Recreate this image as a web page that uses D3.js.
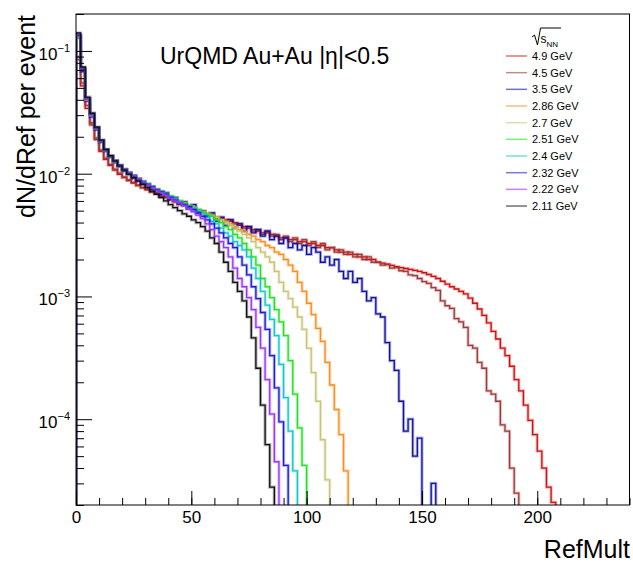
<!DOCTYPE html>
<html>
<head>
<meta charset="utf-8">
<script src="https://cdn.jsdelivr.net/npm/d3@7"></script>
<style>
  body { margin: 0; background: #fff; }
  svg { font-family: "Liberation Sans", Arial, Helvetica, sans-serif; }
</style>
</head>
<body>
<div id="chart"></div>
<script>
// RefMult bins, width 2, first bin starts at 0
var binWidth = 2;

var energies = ["4.9 GeV", "4.5 GeV", "3.5 GeV", "2.86 GeV", "2.7 GeV",
                "2.51 GeV", "2.4 GeV", "2.32 GeV", "2.22 GeV", "2.11 GeV"];

var colors = ["#d01010", "#a03838", "#1010a0", "#ff8c1a", "#c8c474",
              "#22e022", "#10c8c8", "#1a1ad8", "#9933ff", "#111111"];

// dN/dRef per event, one value per bin
var v49 = [0.085, 0.052, 0.034, 0.025, 0.0190, 0.0152, 0.0131, 0.0117, 0.0107, 0.0099,
  0.0093, 0.0088, 0.0084, 0.0080, 0.0077, 0.0074, 0.0071, 0.0069, 0.0066, 0.0064,
  0.0062, 0.0059, 0.0057, 0.0055, 0.0053, 0.0052, 0.0050, 0.0049, 0.0047, 0.0046,
  0.0044, 0.0043, 0.0042, 0.0041, 0.0040, 0.0038, 0.0037, 0.0036, 0.0035, 0.0034,
  0.0033, 0.0033, 0.0032, 0.0031, 0.0030, 0.0030, 0.0029, 0.0029, 0.0028, 0.0028,
  0.0027, 0.0027, 0.0026, 0.0026, 0.0025, 0.0025, 0.0024, 0.0023, 0.0023, 0.0022,
  0.0022, 0.0021, 0.0021, 0.0020, 0.0020, 0.0019, 0.00187, 0.00183, 0.00179, 0.00175,
  0.00172, 0.00169, 0.00166, 0.00163, 0.0016, 0.00156, 0.00151, 0.00146, 0.0014, 0.00133,
  0.00126, 0.0012, 0.00115, 0.0011, 0.00105, 0.00097, 0.00088, 0.00079, 0.0007, 0.00061,
  0.00052, 0.00045, 0.00038, 0.00033, 0.00027, 0.00021, 0.00017, 0.00013, 0.000098, 0.000075,
  0.000055, 0.00004, 0.000028, 0.000021];

var v45 = [0.090, 0.055, 0.036, 0.026, 0.0196, 0.0156, 0.0134, 0.0119, 0.0109, 0.0101,
  0.0094, 0.0089, 0.0085, 0.0081, 0.0077, 0.0075, 0.0071, 0.0070, 0.0066, 0.0065,
  0.0061, 0.0060, 0.0056, 0.0056, 0.0052, 0.0053, 0.0049, 0.0050, 0.0046, 0.0047,
  0.0043, 0.0044, 0.0041, 0.0042, 0.0039, 0.0039, 0.0036, 0.0037, 0.0034, 0.0035,
  0.0032, 0.0034, 0.0031, 0.0032, 0.0029, 0.0031, 0.0028, 0.0030, 0.0027, 0.0029,
  0.0026, 0.0028, 0.0025, 0.0027, 0.0024, 0.0025, 0.0023, 0.0024, 0.0022, 0.0023,
  0.0021, 0.0022, 0.0020, 0.0021, 0.0019, 0.0019, 0.0018, 0.00182, 0.0017, 0.00172,
  0.00162, 0.0016, 0.0015, 0.00148, 0.0014, 0.00132, 0.00128, 0.00118, 0.00112, 0.00092,
  0.00084, 0.0008, 0.00066, 0.00062, 0.00056, 0.0004, 0.00038, 0.00029, 0.00026, 0.00017,
  0.00016, 0.00014, 0.00009, 0.00008, 0.00004, 0.000025];

var v35 = [0.128, 0.068, 0.039, 0.029, 0.0228, 0.0180, 0.0152, 0.0136, 0.0123, 0.0114,
  0.0105, 0.0099, 0.0092, 0.0088, 0.0083, 0.0080, 0.0075, 0.0073, 0.0068, 0.0070,
  0.0062, 0.0064, 0.0057, 0.0059, 0.0052, 0.0056, 0.0048, 0.0049, 0.0045, 0.0048,
  0.0041, 0.0044, 0.0038, 0.0042, 0.0036, 0.0039, 0.0034, 0.0037, 0.0033, 0.0035,
  0.0031, 0.0034, 0.0029, 0.0031, 0.0027, 0.0030, 0.0025, 0.0027, 0.0024, 0.0026,
  0.0022, 0.0025, 0.0023, 0.0019, 0.0021, 0.0018, 0.0020, 0.0016, 0.0014, 0.0016,
  0.0013, 0.0014, 0.0011, 0.00092, 0.00098, 0.00072, 0.00068, 0.00042, 0.0003, 0.00025,
  0.00014, 0.00008, 0.0001, 0.00005, 0.00007, 0, 0, 0.00003];

var v286 = [0.130, 0.070, 0.040, 0.030, 0.0234, 0.0184, 0.0156, 0.0138, 0.0126, 0.0116,
  0.0108, 0.0101, 0.0096, 0.0091, 0.0086, 0.0082, 0.0078, 0.0074, 0.0071, 0.0068,
  0.0065, 0.0062, 0.0059, 0.0057, 0.0055, 0.0053, 0.0051, 0.0049, 0.0047, 0.0045,
  0.0044, 0.0042, 0.0041, 0.0039, 0.0037, 0.0035, 0.0034, 0.0032, 0.0031, 0.0029,
  0.0028, 0.0026, 0.0025, 0.0023, 0.0022, 0.0020, 0.0018, 0.0016, 0.0013, 0.0011,
  0.00088, 0.00071, 0.00055, 0.00043, 0.00029, 0.00019, 0.00012, 0.000075, 0.000038];

var v27 = [0.131, 0.071, 0.041, 0.030, 0.0236, 0.0186, 0.0155, 0.0139, 0.0126, 0.0117,
  0.0108, 0.0102, 0.0096, 0.0090, 0.0086, 0.0082, 0.0078, 0.0075, 0.0071, 0.0068,
  0.0065, 0.0062, 0.0060, 0.0057, 0.0055, 0.0053, 0.0051, 0.0049, 0.0047, 0.0046,
  0.0044, 0.0042, 0.0040, 0.0038, 0.0036, 0.0034, 0.0032, 0.0030, 0.0028, 0.0025,
  0.0023, 0.0021, 0.0019, 0.0016, 0.0013, 0.0011, 0.00096, 0.00082, 0.00068, 0.00054,
  0.00038, 0.00024, 0.00014, 0.000068, 0.000032];

var v251 = [0.133, 0.071, 0.041, 0.031, 0.0237, 0.0186, 0.0157, 0.0139, 0.0127, 0.0117,
  0.0109, 0.0102, 0.0097, 0.0091, 0.0087, 0.0083, 0.0079, 0.0075, 0.0072, 0.0069,
  0.0066, 0.0063, 0.0060, 0.0058, 0.0055, 0.0053, 0.0051, 0.0049, 0.0047, 0.0045,
  0.0042, 0.0040, 0.0037, 0.0035, 0.0032, 0.0030, 0.0027, 0.0024, 0.0021, 0.0018,
  0.0014, 0.0012, 0.00098, 0.00078, 0.00062, 0.00048, 0.00030, 0.00016, 0.000085, 0.000042];

var v24 = [0.132, 0.072, 0.041, 0.030, 0.0236, 0.0185, 0.0156, 0.0138, 0.0126, 0.0116,
  0.0108, 0.0101, 0.0096, 0.0091, 0.0086, 0.0082, 0.0078, 0.0074, 0.0071, 0.0068,
  0.0065, 0.0062, 0.0059, 0.0056, 0.0054, 0.0052, 0.0050, 0.0047, 0.0044, 0.0041,
  0.0039, 0.0036, 0.0033, 0.0031, 0.0028, 0.0026, 0.0024, 0.0021, 0.0017, 0.0014,
  0.0011, 0.00085, 0.00065, 0.00048, 0.00028, 0.00015, 0.00008, 0.000038];

var v232 = [0.134, 0.071, 0.041, 0.031, 0.0238, 0.0187, 0.0157, 0.0139, 0.0127, 0.0117,
  0.0108, 0.0102, 0.0096, 0.0091, 0.0086, 0.0082, 0.0078, 0.0074, 0.0071, 0.0068,
  0.0064, 0.0061, 0.0058, 0.0056, 0.0054, 0.0051, 0.0048, 0.0045, 0.0042, 0.0039,
  0.0036, 0.0033, 0.0030, 0.0027, 0.0025, 0.0021, 0.0018, 0.0015, 0.0012, 0.00096,
  0.00074, 0.00054, 0.00033, 0.00018, 0.000095, 0.000042];

var v222 = [0.136, 0.072, 0.041, 0.030, 0.0237, 0.0186, 0.0157, 0.0139, 0.0127, 0.0117,
  0.0109, 0.0102, 0.0096, 0.0091, 0.0086, 0.0081, 0.0077, 0.0073, 0.0070, 0.0067,
  0.0063, 0.0060, 0.0058, 0.0055, 0.0052, 0.0049, 0.0046, 0.0043, 0.0039, 0.0035,
  0.0031, 0.0028, 0.0025, 0.0021, 0.0017, 0.0014, 0.0012, 0.00098, 0.00078, 0.00056,
  0.00038, 0.00021, 0.00011, 0.000045];

var v211 = [0.140, 0.074, 0.042, 0.031, 0.0240, 0.0188, 0.0158, 0.0140, 0.0127, 0.0116,
  0.0107, 0.0099, 0.0093, 0.0087, 0.0082, 0.0077, 0.0072, 0.0068, 0.0064, 0.0060,
  0.0056, 0.0053, 0.0050, 0.0047, 0.0045, 0.0042, 0.0040, 0.0037, 0.0034, 0.0030,
  0.0027, 0.0023, 0.0019, 0.0016, 0.0013, 0.0011, 0.00092, 0.00068, 0.00046, 0.00026,
  0.00013, 0.000062, 0.000028];

var seriesValues = [v49, v45, v35, v286, v27, v251, v24, v232, v222, v211];

var xTicksMajor = [0, 50, 100, 150, 200];
var yTicksMajor = [1e-1, 1e-2, 1e-3, 1e-4];
var yTickLabels = ["\u22121", "\u22122", "\u22123", "\u22124"];

// dimensions
var W = 633, H = 563;
var margin = {top: 14, right: 3.5, bottom: 58, left: 76},
    width = W - margin.left - margin.right,
    height = H - margin.top - margin.bottom;

var x = d3.scaleLinear().domain([0, 240]).range([0, width]);
var y = d3.scaleLog().domain([2e-5, 0.2]).range([height, 0]);
var yFloor = 1e-5;

var svg = d3.select("#chart").append("svg")
    .attr("width", W)
    .attr("height", H);

var g = svg.append("g")
    .attr("transform", "translate(" + margin.left + "," + margin.top + ")");

g.append("clipPath").attr("id", "frameClip")
  .append("rect").attr("width", width).attr("height", height);

// histograms as steps
var step = d3.line()
    .x(function(d) { return x(d.m); })
    .y(function(d) { return y(Math.max(d.v, yFloor)); })
    .curve(d3.curveStepAfter);

function histPoints(vals) {
  var pts = [{m: 0, v: 0}];
  vals.forEach(function(v, i) { pts.push({m: i * binWidth, v: v}); });
  var end = vals.length * binWidth;
  pts.push({m: end, v: vals[vals.length - 1]});
  pts.push({m: end, v: 0});
  return pts;
}

var plot = g.append("g").attr("clip-path", "url(#frameClip)");

seriesValues.forEach(function(vals, k) {
  var pts = histPoints(vals);
  // faint band like the error bars
  plot.append("path")
    .datum(pts)
    .attr("d", step)
    .attr("fill", "none")
    .attr("stroke", colors[k])
    .attr("stroke-opacity", 0.3)
    .attr("stroke-width", 3.2);
  plot.append("path")
    .datum(pts)
    .attr("d", step)
    .attr("fill", "none")
    .attr("stroke", colors[k])
    .attr("stroke-width", 1.3);
});

// X axis (ticks point inward)
var xMinor = d3.range(0, 241, 10);
g.append("g")
  .attr("transform", "translate(0," + height + ")")
  .call(d3.axisBottom(x).tickValues(xMinor).tickSize(-7).tickFormat(""))
  .call(function(s) { s.select(".domain").remove(); });

g.append("g")
  .attr("transform", "translate(0," + height + ")")
  .call(d3.axisBottom(x).tickValues(xTicksMajor).tickSize(-14).tickPadding(6))
  .call(function(s) {
    s.select(".domain").remove();
    s.selectAll("text").attr("font-size", 17).attr("font-family", null).attr("fill", "#000");
  });

// Y axis
var yMinor = [];
[-5, -4, -3, -2, -1].forEach(function(e) {
  for (var k = 2; k <= 9; k++) {
    var val = k * Math.pow(10, e);
    if (val >= 2e-5 && val <= 0.2) yMinor.push(val);
  }
});

g.append("g")
  .call(d3.axisLeft(y).tickValues(yMinor).tickSize(-8).tickFormat(""))
  .call(function(s) { s.select(".domain").remove(); });

g.append("g")
  .call(d3.axisLeft(y).tickValues(yTicksMajor).tickSize(-16).tickFormat(""))
  .call(function(s) { s.select(".domain").remove(); });

var yLab = g.append("g");
yTicksMajor.forEach(function(t, i) {
  var txt = yLab.append("text")
    .attr("x", -6)
    .attr("y", y(t) + 9)
    .attr("text-anchor", "end")
    .attr("font-size", 17);
  txt.append("tspan").text("10");
  txt.append("tspan").attr("dy", -8).attr("font-size", 11).text(yTickLabels[i]);
});

// frame
g.append("rect")
  .attr("width", width)
  .attr("height", height)
  .attr("fill", "none")
  .attr("stroke", "#000")
  .attr("stroke-width", 1);

// titles
svg.append("text")
  .attr("transform", "translate(35,15) rotate(-90)")
  .attr("text-anchor", "end")
  .attr("font-size", 25)
  .text("dN/dRef per event");

svg.append("text")
  .attr("x", 630)
  .attr("y", 558)
  .attr("text-anchor", "end")
  .attr("font-size", 25)
  .text("RefMult");

svg.append("text")
  .attr("x", 160)
  .attr("y", 64)
  .attr("font-size", 23)
  .text("UrQMD Au+Au |\u03b7|<0.5");

// legend
var leg = svg.append("g");
leg.append("path")
  .attr("d", "M532,37 L534.5,35 L537.5,45 L540.5,28 L561,28")
  .attr("fill", "none")
  .attr("stroke", "#000")
  .attr("stroke-width", 1);
var hdr = leg.append("text").attr("x", 540.5).attr("y", 43).attr("font-size", 12);
hdr.append("tspan").text("s");
hdr.append("tspan").attr("dy", 4).attr("font-size", 8).text("NN");

energies.forEach(function(e, i) {
  var yy = 56 + i * 16.67;
  leg.append("line")
    .attr("x1", 506).attr("x2", 527)
    .attr("y1", yy).attr("y2", yy)
    .attr("stroke", colors[i])
    .attr("stroke-opacity", 0.6)
    .attr("stroke-width", 1.5);
  leg.append("text")
    .attr("x", 532)
    .attr("y", yy + 4)
    .attr("font-size", 11)
    .text(e);
});
</script>
</body>
</html>
